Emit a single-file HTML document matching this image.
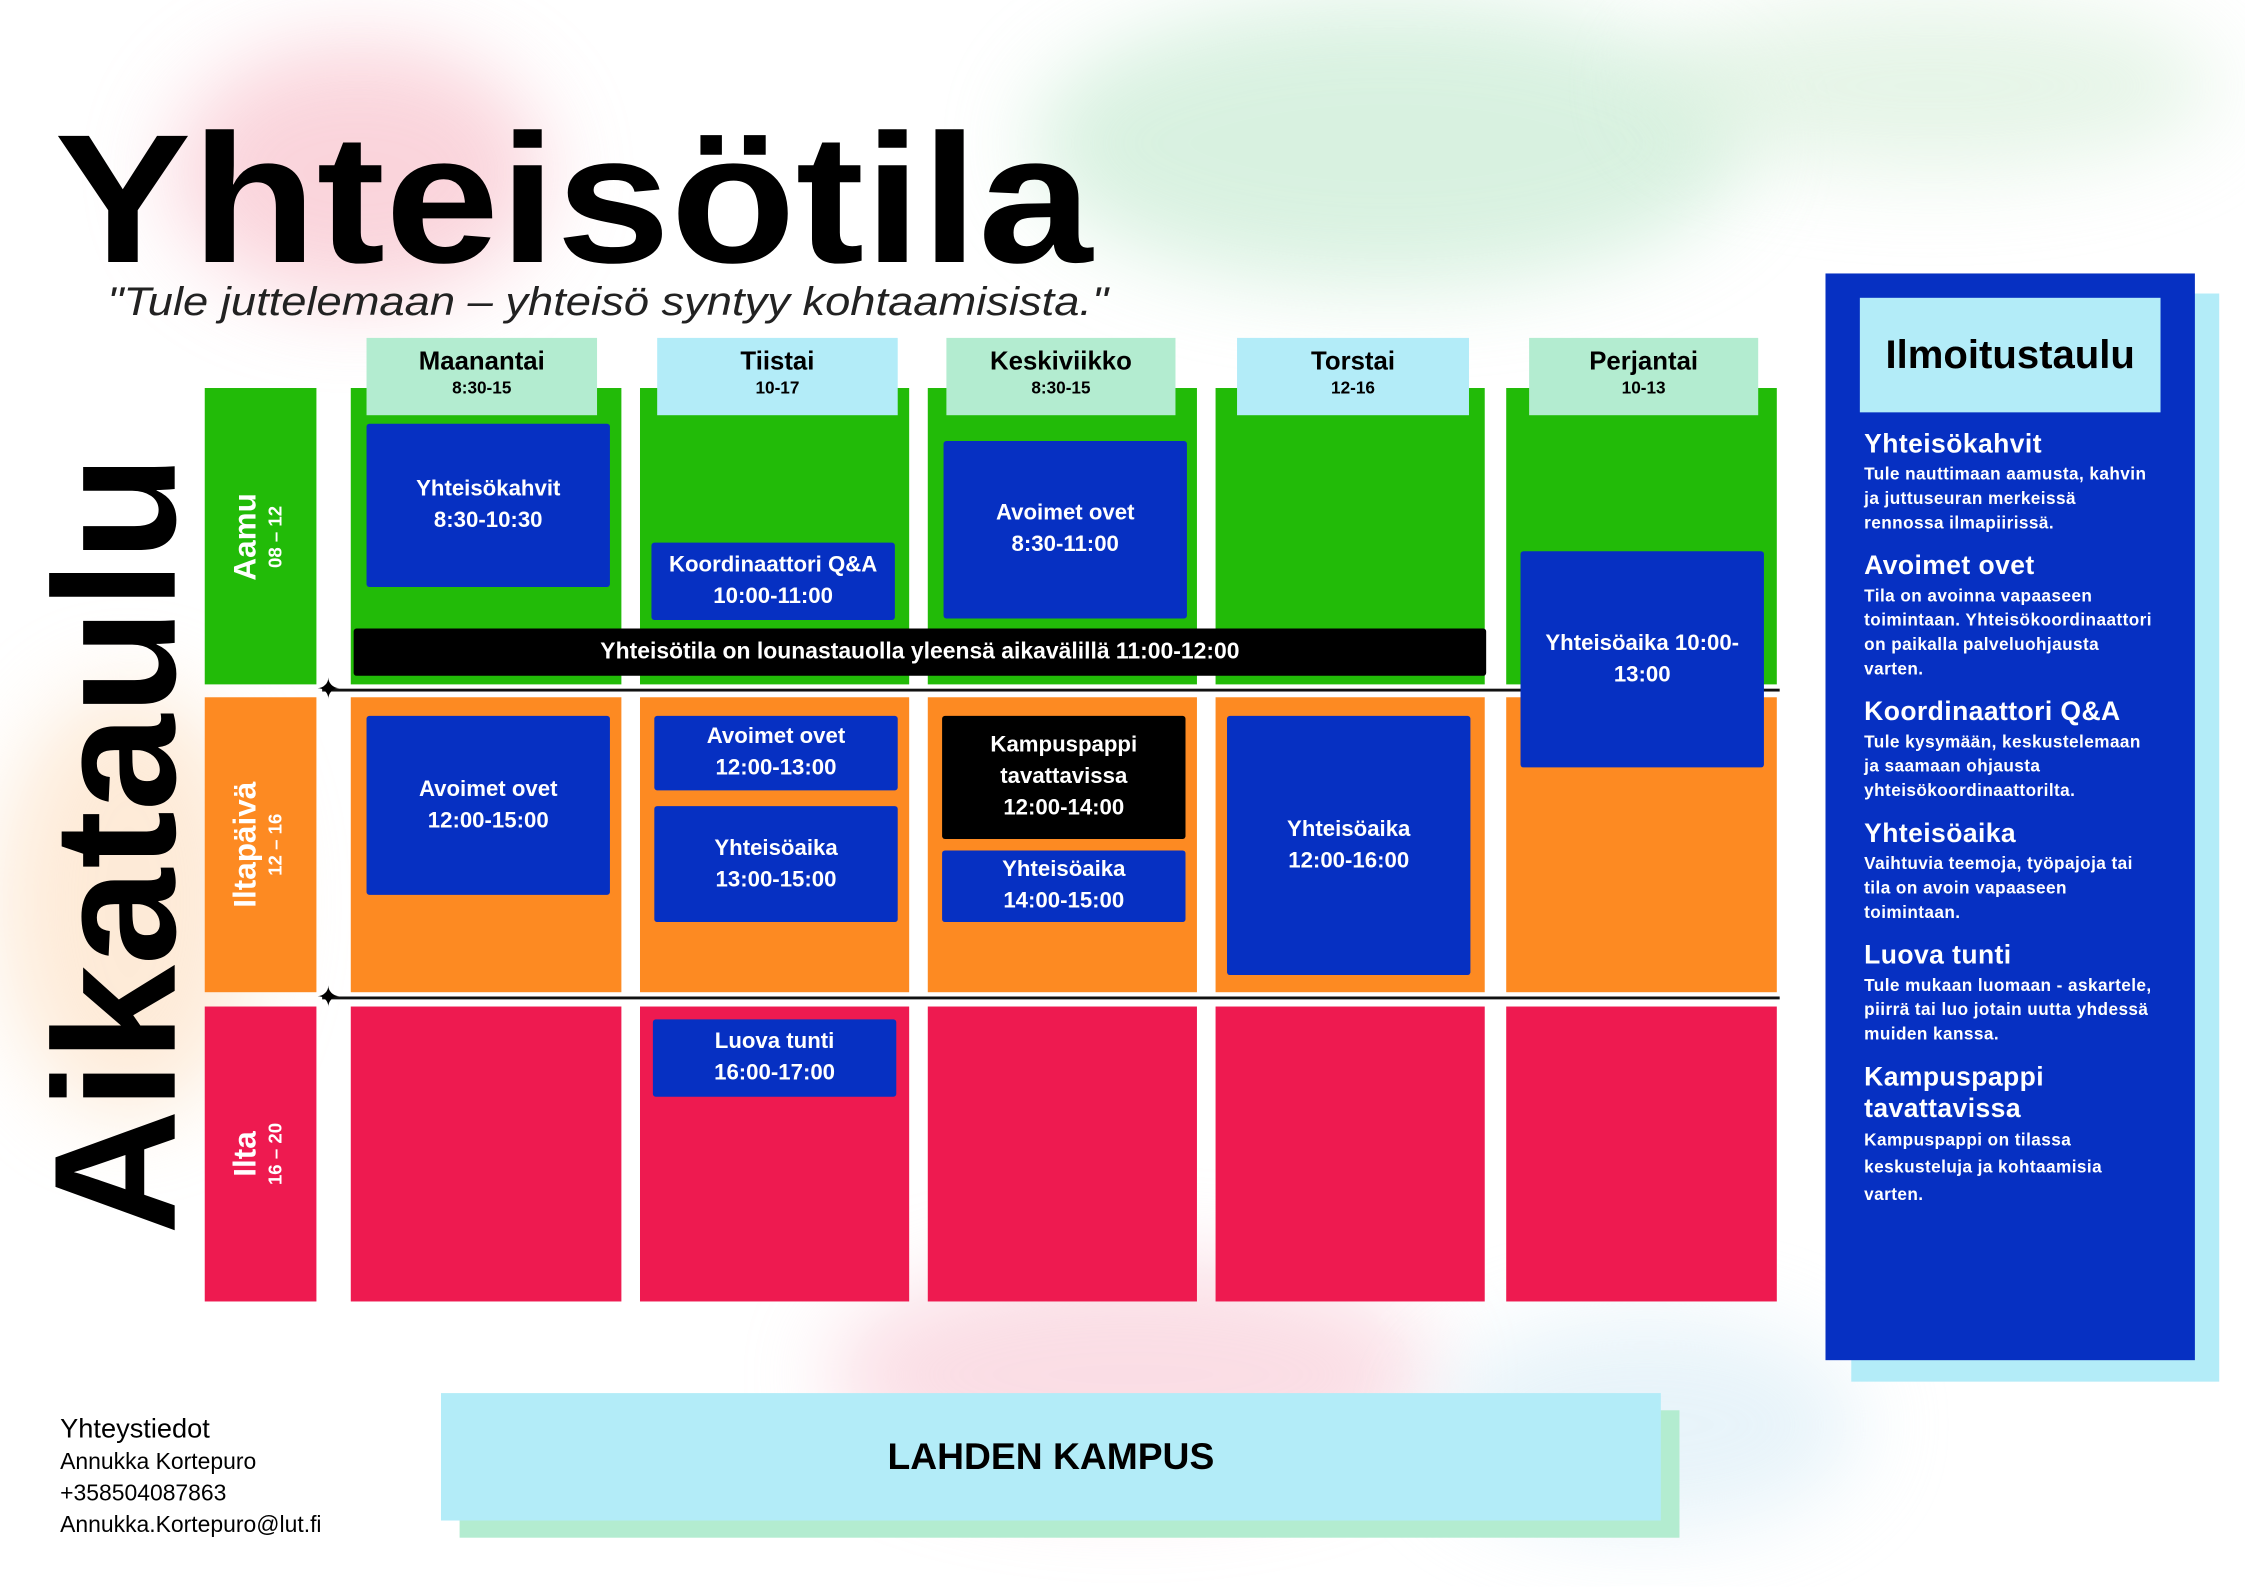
<!DOCTYPE html>
<html><head><meta charset="utf-8">
<style>
html,body{margin:0;padding:0;width:2245px;height:1587px;overflow:hidden;background:#fff;}
#s{position:absolute;left:0;top:0;width:1568px;height:1108px;transform:scale(1.43176);transform-origin:0 0;font-family:"Liberation Sans",sans-serif;overflow:hidden;}
.a{position:absolute;box-sizing:border-box;}
.blob{position:absolute;border-radius:50%;filter:blur(30px);}
.b{background:#0630c2;color:#fff;font-weight:bold;font-size:15.5px;text-align:center;display:flex;align-items:center;justify-content:center;line-height:22px;border-radius:2px;}
.k{background:#000;color:#fff;font-weight:bold;font-size:15.5px;text-align:center;display:flex;align-items:center;justify-content:center;line-height:22px;border-radius:2px;}
.g{background:#22bb08;}.o{background:#fd8a22;}.r{background:#ee1a50;}
.h{text-align:center;font-weight:bold;font-size:18px;padding-top:6px;line-height:20px;}
.h small{display:block;font-size:12px;font-weight:bold;line-height:18px;}
.rl{color:#fff;font-weight:bold;}
.rl div{position:absolute;left:50%;top:50%;transform:translate(-50%,-50%) rotate(-90deg);white-space:nowrap;text-align:center;line-height:18px;}
.p h3{margin:0;font-size:18.5px;color:#fff;line-height:22px;letter-spacing:0.3px;}
.p p{margin:2px 0 10px;font-size:12px;color:#fff;font-weight:bold;line-height:17px;letter-spacing:0.3px;}
</style></head><body><div id="s">
<div class="blob" style="left:120px;top:30px;width:260px;height:180px;background:#f7b8c4;opacity:.6"></div>
<div class="blob" style="left:0;top:480px;width:180px;height:300px;background:#fcd6b0;opacity:.5"></div>
<div class="blob" style="left:720px;top:0;width:500px;height:200px;background:#bfe8cc;opacity:.6"></div>
<div class="blob" style="left:1150px;top:0;width:400px;height:120px;background:#d5eed8;opacity:.6"></div>
<div class="blob" style="left:580px;top:880px;width:420px;height:160px;background:#f6bccb;opacity:.5"></div>
<div class="blob" style="left:1000px;top:920px;width:300px;height:150px;background:#d8ecf6;opacity:.6"></div>

<div class="a" style="left:38px;top:70px;font-size:128px;font-weight:bold;letter-spacing:0;line-height:140px;white-space:nowrap;transform:scaleX(1.12);transform-origin:0 0">Yhteisötila</div>
<div class="a" style="left:75px;top:195px;font-size:28px;font-style:italic;color:#222;white-space:nowrap;transform:scaleX(1.13);transform-origin:0 0">"Tule juttelemaan – yhteisö syntyy kohtaamisista."</div>
<div class="a" style="left:80px;top:590px;width:0;height:0"><div style="position:absolute;transform:translate(-50%,-50%) rotate(-90deg);font-size:121px;font-weight:bold;white-space:nowrap;line-height:100px">Aikataulu</div></div>

<div class="a g rl" style="left:143px;top:271px;width:78px;height:207px"><div><span style="font-size:22px">Aamu</span><br><span style="font-size:13px">08 – 12</span></div></div>
<div class="a o rl" style="left:143px;top:487px;width:78px;height:206px"><div><span style="font-size:22px">Iltapäivä</span><br><span style="font-size:13px">12 – 16</span></div></div>
<div class="a r rl" style="left:143px;top:703px;width:78px;height:206px"><div><span style="font-size:22px">Ilta</span><br><span style="font-size:13px">16 – 20</span></div></div>

<div class="a g" style="left:245px;top:271px;width:189px;height:207px"></div>
<div class="a g" style="left:447px;top:271px;width:188px;height:207px"></div>
<div class="a g" style="left:648px;top:271px;width:188px;height:207px"></div>
<div class="a g" style="left:849px;top:271px;width:188px;height:207px"></div>
<div class="a g" style="left:1052px;top:271px;width:189px;height:207px"></div>
<div class="a o" style="left:245px;top:487px;width:189px;height:206px"></div>
<div class="a o" style="left:447px;top:487px;width:188px;height:206px"></div>
<div class="a o" style="left:648px;top:487px;width:188px;height:206px"></div>
<div class="a o" style="left:849px;top:487px;width:188px;height:206px"></div>
<div class="a o" style="left:1052px;top:487px;width:189px;height:206px"></div>
<div class="a r" style="left:245px;top:703px;width:189px;height:206px"></div>
<div class="a r" style="left:447px;top:703px;width:188px;height:206px"></div>
<div class="a r" style="left:648px;top:703px;width:188px;height:206px"></div>
<div class="a r" style="left:849px;top:703px;width:188px;height:206px"></div>
<div class="a r" style="left:1052px;top:703px;width:189px;height:206px"></div>

<div class="a h" style="left:256px;top:236px;width:161px;height:54px;background:#b3ecd0">Maanantai<small>8:30-15</small></div>
<div class="a h" style="left:459px;top:236px;width:168px;height:54px;background:#b3ecf8">Tiistai<small>10-17</small></div>
<div class="a h" style="left:661px;top:236px;width:160px;height:54px;background:#b3ecd0">Keskiviikko<small>8:30-15</small></div>
<div class="a h" style="left:864px;top:236px;width:162px;height:54px;background:#b3ecf8">Torstai<small>12-16</small></div>
<div class="a h" style="left:1068px;top:236px;width:160px;height:54px;background:#b3ecd0">Perjantai<small>10-13</small></div>

<div class="a" style="left:225px;top:481px;width:1018px;height:2px;background:#111"></div>
<div class="a" style="left:225px;top:696px;width:1018px;height:2px;background:#111"></div>
<div class="a" style="left:221px;top:470px;font-size:20px;line-height:24px">✦</div>
<div class="a" style="left:221px;top:685px;font-size:20px;line-height:24px">✦</div>

<div class="a b" style="left:256px;top:296px;width:170px;height:114px">Yhteisökahvit<br>8:30-10:30</div>
<div class="a b" style="left:455px;top:379px;width:170px;height:54px">Koordinaattori Q&amp;A<br>10:00-11:00</div>
<div class="a b" style="left:659px;top:308px;width:170px;height:124px">Avoimet ovet<br>8:30-11:00</div>
<div class="a b" style="left:1062px;top:385px;width:170px;height:151px">Yhteisöaika 10:00-<br>13:00</div>
<div class="a k" style="left:247px;top:439px;width:791px;height:33px;font-size:16px">Yhteisötila on lounastauolla yleensä aikavälillä 11:00-12:00</div>

<div class="a b" style="left:256px;top:500px;width:170px;height:125px">Avoimet ovet<br>12:00-15:00</div>
<div class="a b" style="left:457px;top:500px;width:170px;height:52px">Avoimet ovet<br>12:00-13:00</div>
<div class="a b" style="left:457px;top:563px;width:170px;height:81px">Yhteisöaika<br>13:00-15:00</div>
<div class="a k" style="left:658px;top:500px;width:170px;height:86px">Kampuspappi<br>tavattavissa<br>12:00-14:00</div>
<div class="a b" style="left:658px;top:594px;width:170px;height:50px">Yhteisöaika<br>14:00-15:00</div>
<div class="a b" style="left:857px;top:500px;width:170px;height:181px">Yhteisöaika<br>12:00-16:00</div>
<div class="a b" style="left:456px;top:712px;width:170px;height:54px">Luova tunti<br>16:00-17:00</div>

<div class="a" style="left:1293px;top:205px;width:257px;height:760px;background:#b3ecf8"></div>
<div class="a p" style="left:1275px;top:191px;width:258px;height:759px;background:#0630c2;padding:108px 24px 0 27px">
<h3>Yhteisökahvit</h3><p>Tule nauttimaan aamusta, kahvin ja juttuseuran merkeissä rennossa ilmapiirissä.</p>
<h3>Avoimet ovet</h3><p>Tila on avoinna vapaaseen toimintaan. Yhteisökoordinaattori on paikalla palveluohjausta varten.</p>
<h3>Koordinaattori Q&amp;A</h3><p>Tule kysymään, keskustelemaan ja saamaan ohjausta yhteisökoordinaattorilta.</p>
<h3>Yhteisöaika</h3><p>Vaihtuvia teemoja, työpajoja tai tila on avoin vapaaseen toimintaan.</p>
<h3>Luova tunti</h3><p>Tule mukaan luomaan - askartele, piirrä tai luo jotain uutta yhdessä muiden kanssa.</p>
<h3>Kampuspappi tavattavissa</h3><p style="line-height:19px">Kampuspappi on tilassa keskusteluja ja kohtaamisia varten.</p>
</div>
<div class="a" style="left:1299px;top:208px;width:210px;height:80px;background:#b3ecf8;font-size:28px;font-weight:bold;display:flex;align-items:center;justify-content:center">Ilmoitustaulu</div>

<div class="a" style="left:321px;top:985px;width:852px;height:89px;background:#b3ecd0"></div>
<div class="a" style="left:308px;top:973px;width:852px;height:89px;background:#b3ecf8;font-size:26px;font-weight:bold;display:flex;align-items:center;justify-content:center">LAHDEN KAMPUS</div>
<div class="a" style="left:42px;top:987px;font-size:19px;line-height:24px">Yhteystiedot</div>
<div class="a" style="left:42px;top:1011px;font-size:16px;line-height:22px">Annukka Kortepuro<br>+358504087863<br>Annukka.Kortepuro@lut.fi</div>
</div></body></html>
